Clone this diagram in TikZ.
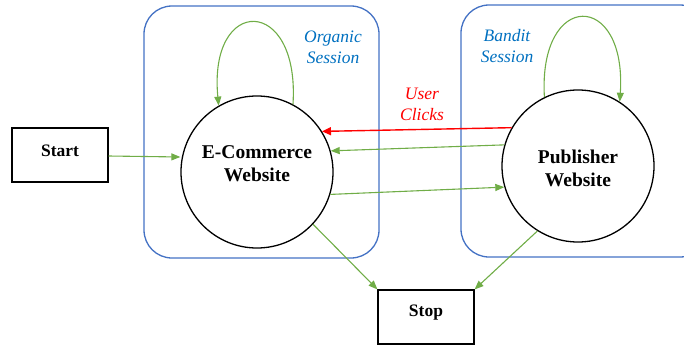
\documentclass[tikz,border=0pt]{standalone}
\usepackage{fontspec}
\setmainfont{Liberation Serif}
\usetikzlibrary{arrows.meta,calc}
\definecolor{boxblue}{RGB}{68,114,196}
\definecolor{txtblue}{RGB}{0,112,192}
\definecolor{arrgreen}{RGB}{112,173,71}
\tikzset{
  session/.style={draw=boxblue,line width=1.3pt,rounded corners=28pt},
  state/.style={draw=black,line width=1.3pt,circle,minimum size=152pt,inner sep=0pt,align=center,font=\fontsize{19.5}{23}\selectfont\bfseries},
  term/.style={draw=black,line width=1.1pt,minimum width=96pt,minimum height=54pt,inner sep=0pt,font=\fontsize{17.5}{20}\selectfont\bfseries},
  lbl/.style={align=center,font=\fontsize{17.5}{21}\selectfont\itshape,inner sep=0pt},
  garrow/.style={draw=arrgreen,line width=1.1pt,-{Triangle[length=9pt,width=7pt]}},
  rarrow/.style={draw=red,line width=1.4pt,-{Triangle[length=9pt,width=8pt]}}
}
\begin{document}
\begin{tikzpicture}[x=1pt,y=-1pt]
\useasboundingbox (0,0) rectangle (684,345);
\begin{scope}
\clip (0,0) rectangle (684,345);
\draw[session] (144,6) rectangle (379,258);
\draw[session] (461,5) rectangle (708,257);
\end{scope}
\node[lbl,text=txtblue] (org) at (333,47) {Organic\\Session};
\node[lbl,text=txtblue] (ban) at (507,46) {Bandit\\Session};
\node[lbl,text=red] (uc) at (422,104) {User\\Clicks};
\node[state] (ec) at (257,172) {};
\node[font=\fontsize{19.5}{23}\selectfont\bfseries,align=center,inner sep=0pt] (ect) at (257,164) {E-Commerce\\Website};
\node[state] (pw) at (578,166) {};
\node[font=\fontsize{19.5}{23}\selectfont\bfseries,align=center,inner sep=0pt] (pwt) at (578,168) {Publisher\\Website};
\node[term] (start) at (60,155) {};
\node[font=\fontsize{17.5}{20}\selectfont\bfseries,inner sep=0pt] (startt) at (60,151) {Start};
\node[term] (stop) at (426,317) {};
\node[font=\fontsize{17.5}{20}\selectfont\bfseries,inner sep=0pt] (stopt) at (426,313) {Stop};
\draw[garrow] (start.east |- 0,156) -- (ec.west |- 0,157);
\draw[rarrow] (pw.150) -- (ec.32);
\draw[garrow] (pw.164) -- (ec.16);
\draw[garrow] (ec.-17) -- (pw.196);
\draw[garrow] (ec.-43) -- (stop.north west);
\draw[garrow] (pw.238) -- (stop.north east);
\draw[garrow] (ec.62) .. controls (300,-5) and (208,-5) .. (ec.120);
\draw[garrow] (pw.116) .. controls (538,-10) and (627,-10) .. (pw.57);
\end{tikzpicture}
\end{document}
